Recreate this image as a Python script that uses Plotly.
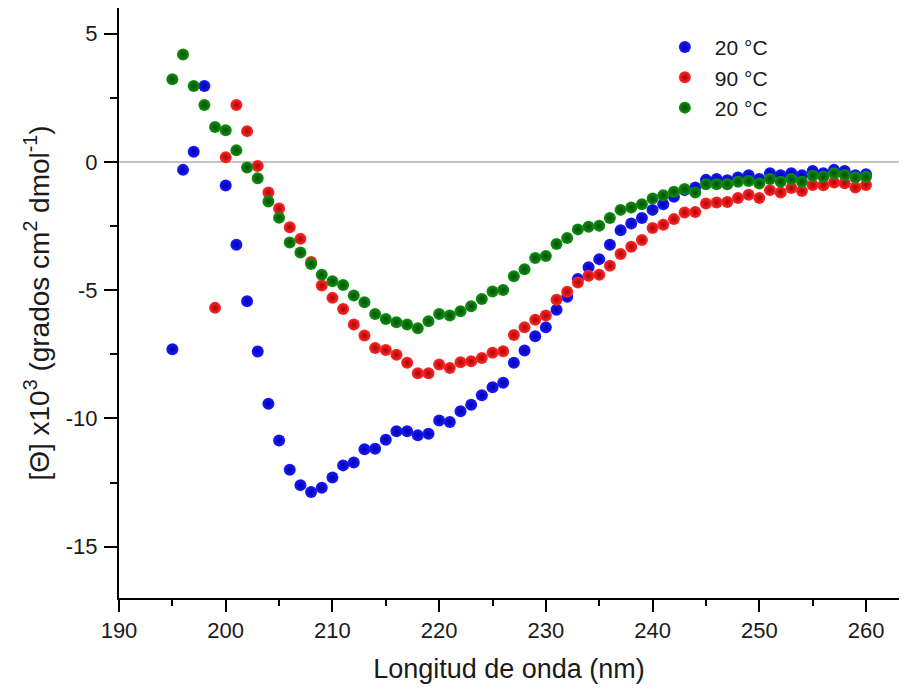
import plotly.graph_objects as go

wavelength = list(range(195, 261))

blue_20c = [-7.30, -0.31, 0.40, 2.96, None, -0.92, -3.23, -5.43, -7.39, -9.43,
            -10.86, -12.00, -12.60, -12.87, -12.70, -12.30, -11.83, -11.72, -11.20, -11.18,
            -10.83, -10.50, -10.50, -10.66, -10.60, -10.08, -10.14, -9.72, -9.47, -9.10,
            -8.78, -8.61, -7.83, -7.35, -6.80, -6.45, -5.76, -5.26, -4.56, -4.11,
            -3.79, -3.23, -2.66, -2.40, -2.19, -1.87, -1.65, -1.36, -1.10, -1.00,
            -0.70, -0.67, -0.71, -0.61, -0.52, -0.67, -0.44, -0.52, -0.44, -0.52,
            -0.35, -0.44, -0.31, -0.35, -0.52, -0.48]

red_90c = [None, None, None, None, -5.69, 0.18, 2.22, 1.20, -0.16, -1.19,
           -1.82, -2.55, -3.00, -3.90, -4.82, -5.30, -5.73, -6.34, -6.77, -7.25,
           -7.33, -7.52, -7.83, -8.24, -8.24, -7.90, -8.03, -7.81, -7.77, -7.64,
           -7.44, -7.38, -6.75, -6.45, -6.15, -5.99, -5.37, -5.06, -4.70, -4.44,
           -4.40, -4.05, -3.59, -3.31, -3.04, -2.58, -2.45, -2.23, -1.97, -1.95,
           -1.62, -1.58, -1.56, -1.41, -1.28, -1.41, -1.10, -1.19, -1.02, -1.13,
           -0.90, -0.91, -0.80, -0.83, -1.00, -0.90]

green_20c = [3.22, 4.19, 2.96, 2.22, 1.36, 1.23, 0.45, -0.22, -0.64, -1.54,
             -2.18, -3.14, -3.53, -3.98, -4.40, -4.65, -4.80, -5.21, -5.47, -5.93,
             -6.12, -6.25, -6.34, -6.48, -6.21, -5.93, -5.99, -5.82, -5.63, -5.34,
             -5.05, -4.99, -4.46, -4.18, -3.75, -3.67, -3.20, -2.97, -2.63, -2.53,
             -2.49, -2.19, -1.87, -1.78, -1.65, -1.43, -1.30, -1.16, -1.06, -1.19,
             -0.87, -0.87, -0.87, -0.77, -0.74, -0.84, -0.67, -0.77, -0.67, -0.77,
             -0.54, -0.58, -0.44, -0.51, -0.61, -0.58]

series_names = ["20 °C", "90 °C", "20 °C"]
x_tick_vals = [190, 200, 210, 220, 230, 240, 250, 260]
y_tick_vals = [5, 0, -5, -10, -15]
y_tick_text = ["5", "0", "-5", "-10", "-15"]

styles = [
    ("#1a1aff", "#0000a8"),
    ("#ff2a2a", "#b00000"),
    ("#139113", "#004e00"),
]

fig = go.Figure()
for name, ys, (c, edge) in zip(series_names, [blue_20c, red_90c, green_20c], styles):
    fig.add_trace(go.Scatter(
        x=wavelength, y=ys, mode="markers", name=name,
        marker=dict(size=12, color=c, line=dict(width=0),
                    gradient=dict(type="radial", color=edge)),
    ))

font_family = "Liberation Sans, Arial, sans-serif"
txt = "#1a1a1a"
# page body has an 8px margin, so the figure is sized to fit the 907x693 window
fig.update_layout(
    width=891, height=677,
    margin=dict(l=111, r=0, t=0, b=87, autoexpand=False),
    paper_bgcolor="white", plot_bgcolor="white",
    font=dict(family=font_family, color=txt),
    showlegend=True,
    legend=dict(x=0.687, y=0.968, xanchor="left", yanchor="top",
                font=dict(size=21, family=font_family, color=txt),
                bgcolor="rgba(0,0,0,0)", itemsizing="constant", tracegroupgap=0,
                itemwidth=50),
    xaxis=dict(range=[190, 263.09], tickvals=x_tick_vals, automargin=False,
               ticks="outside", ticklen=12, tickwidth=2, tickcolor="black",
               minor=dict(dtick=5, ticks="outside", ticklen=6, tickwidth=2, tickcolor="black"),
               showline=True, linecolor="black", linewidth=2,
               showgrid=False, zeroline=False,
               tickfont=dict(size=22, family=font_family, color=txt),
               ticklabelstandoff=0,
               title=dict(text="Longitud de onda (nm)", font=dict(size=27, family=font_family, color=txt), standoff=17)),
    yaxis=dict(range=[-17, 6], tickvals=y_tick_vals, ticktext=y_tick_text, automargin=False,
               ticks="outside", ticklen=13, tickwidth=2, tickcolor="black",
               minor=dict(dtick=2.5, ticks="outside", ticklen=7, tickwidth=2, tickcolor="black"),
               showline=True, linecolor="black", linewidth=2,
               showgrid=False, zeroline=True, zerolinecolor="#c4c4c4", zerolinewidth=2,
               tickfont=dict(size=22, family=font_family, color=txt),
               ticklabelstandoff=2,
               title=dict(text="[Θ] x10<sup>3</sup> (grados cm<sup>2</sup> dmol<sup>-1</sup>)",
                          font=dict(size=28, family=font_family, color=txt), standoff=8)),
)

fig.write_html("out.html")
